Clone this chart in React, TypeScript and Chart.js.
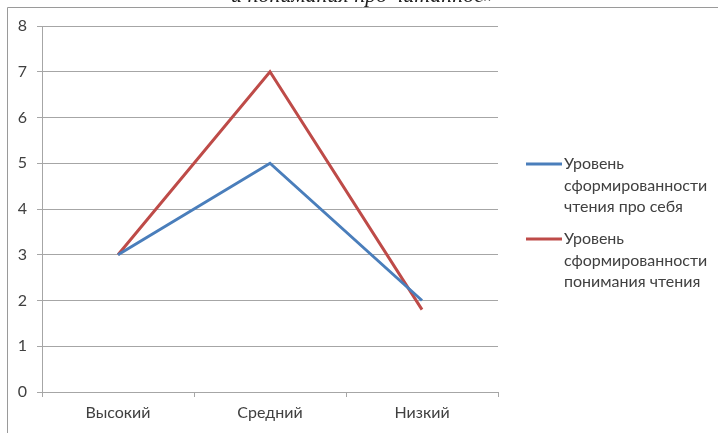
import React, { useEffect, useRef } from "react";
import { Chart, registerables } from "chart.js";

Chart.register(...registerables);

const categories = ["Высокий", "Средний", "Низкий"];
const silentReading = [3, 5, 2];
const comprehension = [3, 7, 1.8];
const seriesNames = [
  ["Уровень", "сформированности", "чтения про себя"],
  ["Уровень", "сформированности", "понимания чтения"],
];
const titleTail = "и понимания про читанное»";

const BLUE = "#4A7EBB";
const RED = "#BE4B48";
const TEXT = "#404040";
const GRID = "#A6A6A6";
const FONT = "Lato, 'Open Sans', sans-serif";

const framePlugin = {
  id: "frame",
  afterDraw(chart: any) {
    const ctx = chart.ctx;
    const w = chart.width;
    const h = chart.height;
    ctx.save();
    // chart frame (top and left edges)
    ctx.strokeStyle = "#9A9A9A";
    ctx.lineWidth = 1;
    ctx.beginPath();
    ctx.moveTo(7.5, h);
    ctx.lineTo(7.5, 7.5);
    ctx.lineTo(w, 7.5);
    ctx.stroke();

    // title, mostly above the frame
    ctx.fillStyle = "#202020";
    ctx.font = "italic 22px 'Liberation Serif', serif";
    ctx.textAlign = "center";
    ctx.textBaseline = "alphabetic";
    ctx.fillText(titleTail, 363, 2);

    // legend
    const x0 = chart.chartArea.right + 28;
    const tops = [164, 239];
    chart.data.datasets.forEach((ds: any, i: number) => {
      const y = tops[i];
      ctx.strokeStyle = ds.borderColor;
      ctx.lineWidth = 3;
      ctx.beginPath();
      ctx.moveTo(x0, y);
      ctx.lineTo(x0 + 36, y);
      ctx.stroke();
      ctx.fillStyle = TEXT;
      ctx.font = `16px ${FONT}`;
      ctx.textAlign = "left";
      ctx.textBaseline = "middle";
      seriesNames[i].forEach((line, k) => {
        ctx.fillText(line, x0 + 38, y + k * 21.5);
      });
    });
    ctx.restore();
  },
};

export default function App() {
  const ref = useRef<HTMLCanvasElement | null>(null);

  useEffect(() => {
    if (!ref.current) return;
    const chart = new Chart(ref.current, {
      type: "line",
      data: {
        labels: categories,
        datasets: [
          {
            label: seriesNames[0].join(" "),
            data: silentReading,
            borderColor: BLUE,
            backgroundColor: BLUE,
            borderWidth: 3,
            pointRadius: 0,
            tension: 0,
          },
          {
            label: seriesNames[1].join(" "),
            data: comprehension,
            borderColor: RED,
            backgroundColor: RED,
            borderWidth: 3,
            pointRadius: 0,
            tension: 0,
          },
        ],
      },
      options: {
        animation: false,
        responsive: false,
        layout: { padding: { left: 0, right: 220, top: 26, bottom: 0 } },
        plugins: {
          legend: { display: false },
          tooltip: { enabled: false },
          title: { display: false },
        },
        scales: {
          x: {
            offset: true,
            grid: {
              offset: true,
              drawOnChartArea: false,
              drawTicks: true,
              tickLength: 5,
              color: GRID,
            },
            border: { display: true, color: GRID },
            ticks: {
              color: TEXT,
              font: { family: FONT, size: 16 },
              padding: 6,
              maxRotation: 0,
            },
            afterFit(scale: any) {
              scale.height = 41;
            },
          },
          y: {
            min: 0,
            max: 8,
            ticks: {
              stepSize: 1,
              color: TEXT,
              font: { family: FONT, size: 16 },
              padding: 10,
            },
            grid: { color: GRID, tickLength: 5, drawTicks: true },
            border: { display: true, color: GRID },
            afterFit(scale: any) {
              scale.width = 42;
            },
          },
        },
      },
      plugins: [framePlugin],
    });
    return () => chart.destroy();
  }, []);

  return (
    <div style={{ position: "fixed", left: 0, top: 0, width: 718, height: 433, background: "#fff" }}>
      <canvas ref={ref} width={718} height={433} />
    </div>
  );
}
